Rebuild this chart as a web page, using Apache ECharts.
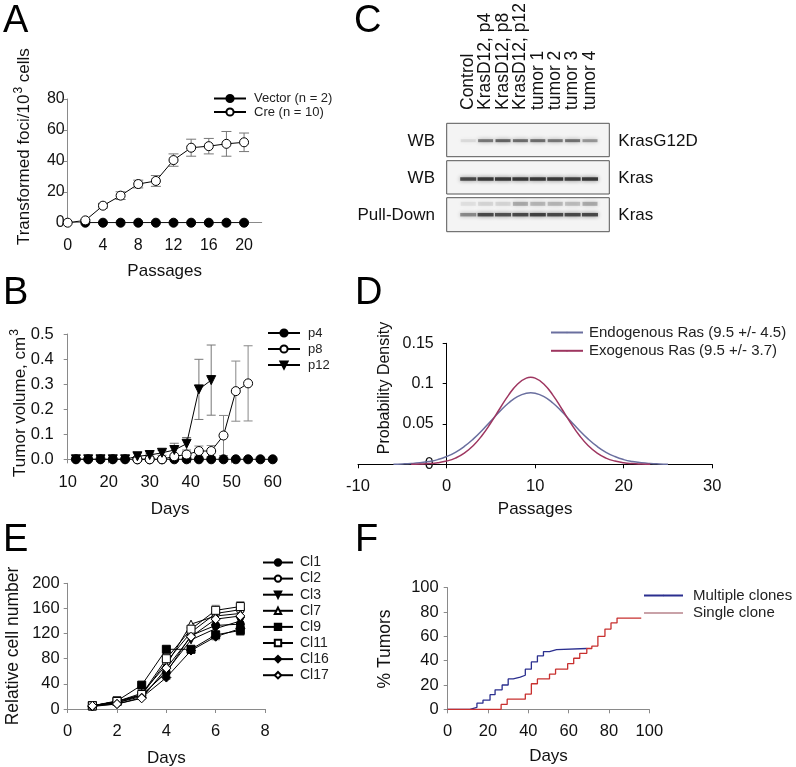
<!DOCTYPE html>
<html><head><meta charset="utf-8">
<script src="https://cdn.jsdelivr.net/npm/echarts@6/dist/echarts.min.js"></script>
<style>html,body{margin:0;padding:0;background:#fff}#c{width:796px;height:767px}</style>
</head><body><div id="c"></div>
<script>
// ---------- Panel A ----------
const aPassages = [0, 2, 4, 6, 8, 10, 12, 14, 16, 18, 20];
const aVectorPassages = [2, 4, 6, 8, 10, 12, 14, 16, 18, 20];
const aVector = [0, 0, 0, 0, 0, 0, 0, 0, 0, 0];
const aCre = [0, 1.5, 11, 17.5, 25, 27, 40.5, 48.5, 49.5, 51, 52];
const aCreErr = [0, 0.5, 1.5, 2.5, 2.5, 3.5, 4, 5.5, 5, 8, 6];
const aXTicks = [0, 4, 8, 12, 16, 20];
// ---------- Panel B ----------
const bP4Days = [12, 15, 18, 21, 24, 27, 30, 33, 36, 39, 42, 45, 48, 51, 54, 57, 60];
const bP4 = [0, 0, 0, 0, 0, 0, 0, 0, 0, 0, 0, 0, 0, 0, 0, 0, 0];
const bP8Days = [27, 30, 33, 36, 39, 42, 45, 48, 51, 54];
const bP8 = [0, 0, 0, 0.012, 0.019, 0.033, 0.033, 0.095, 0.272, 0.303];
const bP8Err = [0, 0, 0, 0.005, 0.012, 0.02, 0.022, 0.08, 0.12, 0.15];
const bP12Days = [12, 15, 18, 21, 24, 27, 30, 33, 36, 39, 42, 45];
const bP12 = [0, 0, 0, 0, 0, 0.012, 0.017, 0.026, 0.037, 0.062, 0.279, 0.316];
const bP12Err = [0, 0, 0, 0, 0, 0, 0.004, 0.01, 0.027, 0.025, 0.12, 0.14];
// ---------- Panel C (blot) ----------
const cLanes = ['Control', 'KrasD12, p4', 'KrasD12, p8', 'KrasD12, p12', 'tumor 1', 'tumor 2', 'tumor 3', 'tumor 4'];
const cG12D = [0.1, 0.55, 0.65, 0.6, 0.6, 0.55, 0.58, 0.4];
const cKras = [0.8, 0.9, 0.9, 0.9, 0.9, 0.9, 0.85, 0.9];
const cPull = [0.45, 0.8, 0.75, 0.8, 0.85, 0.8, 0.8, 0.8];
const cPullUpper = [0.08, 0.12, 0.12, 0.3, 0.25, 0.25, 0.22, 0.3];
const cStripLeft = ['WB', 'WB', 'Pull-Down'];
const cStripRight = ['KrasG12D', 'Kras', 'Kras'];
// ---------- Panel D ----------
const dPassEndo = [-6,-5,-4,-3,-2,-1,0,1,2,3,4,5,6,7,8,9,9.5,10,11,12,13,14,15,16,17,18,19,20,21,22,23,24,25];
const dEndo = [0.0002,0.0005,0.001,0.0019,0.0034,0.0058,0.0096,0.0149,0.0221,0.0312,0.042,0.0538,0.0655,0.076,0.0839,0.0881,0.0887,0.0881,0.0839,0.076,0.0655,0.0538,0.042,0.0312,0.0221,0.0149,0.0096,0.0058,0.0034,0.0019,0.001,0.0005,0.0002];
const dPassExo = [-4,-3,-2,-1,0,1,2,3,4,5,6,7,8,9,9.5,10,11,12,13,14,15,16,17,18,19,20,21,22,23];
const dExo = [0.0001,0.0004,0.0009,0.0019,0.004,0.0077,0.0138,0.023,0.0357,0.0515,0.0689,0.0858,0.0993,0.1068,0.1078,0.1068,0.0993,0.0858,0.0689,0.0515,0.0357,0.023,0.0138,0.0077,0.004,0.0019,0.0009,0.0004,0.0001];
// ---------- Panel E ----------
const eDays = [1, 2, 3, 4, 5, 6, 7];
const eCl1 = [5, 12, 22, 58, 117, 133, 135];
const eCl2 = [5, 10, 22, 75, 122, 152, 158];
const eCl3 = [5, 10, 20, 60, 110, 128, 140];
const eCl7 = [5, 12, 25, 70, 135, 148, 152];
const eCl9 = [5, 13, 38, 95, 95, 118, 125];
const eCl11 = [5, 12, 23, 80, 127, 157, 163];
const eCl16 = [4, 8, 18, 50, 93, 115, 128];
const eCl17 = [5, 8, 17, 65, 115, 143, 148];
const eCl9Err = [0, 1, 2, 3, 4, 6, 8];
const eCl11Err = [0, 1, 2, 3, 4, 8, 8];
const eCl16Err = [0, 1, 2, 3, 4, 5, 6];
// ---------- Panel F ----------
const fMultiDays = [0, 11, 14.5, 17.5, 21, 23.5, 27, 30, 32.5, 36, 38.5, 41.5, 44.5, 47.5, 50.5, 54, 69];
const fMulti = [0, 1.6, 5, 7.5, 12, 16, 20, 25, 26.5, 28, 33, 39, 44, 47.5, 49, 50, 50];
const fSingleDays = [0, 26.5, 29.5, 38.5, 41.5, 44.5, 50.5, 53.5, 59.5, 62.5, 65.5, 69, 71.5, 74.5, 78, 81, 84, 96];
const fSingle = [0, 4, 8.3, 12.5, 21, 25, 29, 33, 37.5, 42, 46, 50, 52, 60, 66, 71, 75, 75];

const FONT = '"Liberation Sans", Arial, sans-serif';
const GRAY = '#8a8a8a';
const zip = (xs, ys) => xs.map((x, i) => [x, ys[i]]);
const zip3 = (xs, ys, es) => xs.map((x, i) => [x, ys[i], es[i]]);

function vAxis(gi, min, max, interval, o) {
  o = o || {};
  return Object.assign({
    type: 'value', gridIndex: gi, min: min, max: max, interval: interval,
    axisLine: {show: true, onZero: false, lineStyle: {color: o.lineColor || GRAY, width: 1}},
    axisTick: {show: true, length: 4, lineStyle: {color: o.lineColor || GRAY}},
    splitLine: {show: false},
    axisLabel: {fontFamily: FONT, fontSize: o.fs || 16, color: '#111', margin: o.margin || 8, formatter: o.fmt},
    name: o.name, nameLocation: 'middle', nameGap: o.nameGap,
    nameTextStyle: {fontFamily: FONT, fontSize: 17, color: '#111'}
  }, o.extra || {});
}

function errSeries(xi, data, capW, color, z) {
  return {
    type: 'custom', xAxisIndex: xi, yAxisIndex: xi, data: data, z: z || 1, silent: true,
    renderItem: function (params, api) {
      const x = api.value(0), y = api.value(1), e = api.value(2);
      if (!e) return null;
      const t = api.coord([x, y + e]), b = api.coord([x, Math.max(0, y - e)]);
      const st = {stroke: color, lineWidth: 1};
      return {type: 'group', children: [
        {type: 'line', shape: {x1: t[0], y1: t[1], x2: b[0], y2: b[1]}, style: st},
        {type: 'line', shape: {x1: t[0] - capW / 2, y1: t[1], x2: t[0] + capW / 2, y2: t[1]}, style: st},
        {type: 'line', shape: {x1: b[0] - capW / 2, y1: b[1], x2: b[0] + capW / 2, y2: b[1]}, style: st}
      ]};
    }
  };
}

function mk(name, xi, data, symbol, filled, size, extra) {
  return Object.assign({
    type: 'line', name: name, xAxisIndex: xi, yAxisIndex: xi, data: data,
    symbol: symbol, symbolSize: size, showAllSymbol: true,
    itemStyle: {color: filled ? '#000' : '#fff', borderColor: '#000', borderWidth: 1},
    lineStyle: {color: '#000', width: 1}, z: 3
  }, extra || {});
}

function band(gi, vals, y, size) {
  return {
    type: 'scatter', xAxisIndex: gi, yAxisIndex: gi, symbol: 'rect', symbolSize: size, silent: true,
    data: vals.map((v, i) => ({value: [i, y], itemStyle: {opacity: v}})),
    itemStyle: {color: '#2a2a2a', shadowBlur: 4, shadowColor: 'rgba(0,0,0,0.55)'}, z: 3
  };
}

const legendBase = (o) => Object.assign({
  orient: 'vertical', padding: 0, itemWidth: 32, itemHeight: 9, selectedMode: false,
  textStyle: {fontFamily: FONT, fontSize: 13, color: '#222', padding: [0, 0, 0, 3]}
}, o);

const blotGrid = (top, h) => ({left: 446.7, top: top, width: 162.6, height: h, show: true,
  backgroundColor: '#f4f4f4', borderColor: '#555', borderWidth: 1, outerBoundsMode: 'none'});

const option = {
  animation: false,
  backgroundColor: '#fff',
  grid: [
    {left: 67.7, top: 99, width: 194, height: 123.7, outerBoundsMode: 'none'},
    {left: 67.7, top: 334, width: 205, height: 125.3, outerBoundsMode: 'none'},
    {left: 358, top: 343.3, width: 354.3, height: 121, outerBoundsMode: 'none'},
    {left: 67.7, top: 583.3, width: 197.3, height: 125.7, outerBoundsMode: 'none'},
    {left: 447.7, top: 587.7, width: 201.6, height: 121.6, outerBoundsMode: 'none'},
    {left: 459.5, top: 112, width: 139, height: 4, outerBoundsMode: 'none'},
    blotGrid(123.3, 33.4), blotGrid(160.7, 33.3), blotGrid(197.7, 34)
  ],
  xAxis: [
    vAxis(0, 0, 22, 4, {name: 'Passages', nameGap: 40,
      extra: {axisTick: {show: true, length: 4, lineStyle: {color: GRAY}, customValues: aXTicks},
              axisLabel: {fontFamily: FONT, fontSize: 16, color: '#111', margin: 15, customValues: aXTicks}}}),
    vAxis(1, 10, 60, 10, {margin: 15, fs: 16.5, name: 'Days', nameGap: 42}),
    vAxis(2, -10, 30, 10, {margin: 14, fs: 16.5, lineColor: '#000', name: 'Passages', nameGap: 37,
      extra: {axisLine: {show: true, onZero: true, lineStyle: {color: '#000'}}}}),
    vAxis(3, 0, 8, 2, {margin: 14, fs: 16.5, name: 'Days', nameGap: 41}),
    vAxis(4, 0, 100, 20, {margin: 14, fs: 16.5, name: 'Days', nameGap: 39}),
    {type: 'category', gridIndex: 5, position: 'top', data: cLanes, boundaryGap: true,
      axisLine: {show: false}, axisTick: {show: false},
      axisLabel: {rotate: 90, margin: 2, interval: 0, fontFamily: FONT, fontSize: 17.5, color: '#111'}},
    {type: 'value', gridIndex: 6, min: -1.236, max: 8.109, show: false},
    {type: 'value', gridIndex: 7, min: -1.236, max: 8.109, show: false},
    {type: 'value', gridIndex: 8, min: -1.236, max: 8.109, show: false}
  ],
  yAxis: [
    vAxis(0, 0, 80, 20, {margin: 3}),
    vAxis(1, 0, 0.5, 0.1, {margin: 14, fs: 16.5, fmt: v => v.toFixed(1)}),
    vAxis(2, 0, 0.15, 0.05, {margin: 13, fs: 16, lineColor: '#000', extra: {offset: -88.7}}),
    vAxis(3, 0, 200, 40, {margin: 8, fs: 16.5}),
    vAxis(4, 0, 100, 20, {margin: 9, fs: 16.5}),
    {type: 'value', gridIndex: 5, show: false},
    {type: 'value', gridIndex: 6, min: 0, max: 1, show: false},
    {type: 'value', gridIndex: 7, min: 0, max: 1, show: false},
    {type: 'value', gridIndex: 8, min: 0, max: 1, show: false}
  ],
  legend: [
    legendBase({left: 213, top: 92, itemGap: 0.5, data: ['Vector (n = 2)', 'Cre (n = 10)'],
      textStyle: {fontFamily: FONT, fontSize: 13, lineHeight: 13, color: '#222', padding: [0, 0, 0, 3]}}),
    legendBase({left: 267, top: 326.5, itemGap: 3, data: ['p4', 'p8', 'p12'],
      textStyle: {fontFamily: FONT, fontSize: 13, lineHeight: 13, color: '#222', padding: [0, 0, 0, 3]}}),
    legendBase({left: 550, top: 325, itemGap: 3.3, itemHeight: 2, data: ['Endogenous Ras (9.5 +/- 4.5)', 'Exogenous Ras (9.5 +/- 3.7)'],
      textStyle: {fontFamily: FONT, fontSize: 15, lineHeight: 15, color: '#222', padding: [0, 0, 0, 1]}}),
    legendBase({left: 262, top: 555.5, itemGap: 2.1, itemWidth: 30, itemHeight: 8,
      data: ['Cl1', 'Cl2', 'Cl3', 'Cl7', 'Cl9', 'Cl11', 'Cl16', 'Cl17'],
      textStyle: {fontFamily: FONT, fontSize: 14, lineHeight: 14, color: '#222', padding: [0, 0, 0, 2]}}),
    legendBase({left: 643, top: 588, itemGap: 2.4, itemWidth: 39, itemHeight: 2,
      data: ['Multiple clones', {name: 'Single clone', itemStyle: {color: '#c9a2a8'}, lineStyle: {color: '#c9a2a8'}}],
      textStyle: {fontFamily: FONT, fontSize: 15, lineHeight: 15, color: '#222', padding: [0, 0, 0, 5]}})
  ],
  series: [
    // A
    errSeries(0, zip3(aPassages, aCre, aCreErr), 10, '#777', 1),
    mk('Vector (n = 2)', 0, zip(aVectorPassages, aVector), 'circle', true, 9),
    mk('Cre (n = 10)', 0, zip(aPassages, aCre), 'circle', false, 9, {z: 4}),
    // B
    errSeries(1, zip3(bP8Days, bP8, bP8Err), 9, '#888', 1),
    errSeries(1, zip3(bP12Days, bP12, bP12Err), 9, '#777', 1),
    mk('p4', 1, zip(bP4Days, bP4), 'circle', true, 9, {z: 3}),
    mk('p8', 1, zip(bP8Days, bP8), 'circle', false, 9, {z: 4}),
    mk('p12', 1, zip(bP12Days, bP12), 'triangle', true, 9, {z: 5, symbolRotate: 180}),
    // D
    {type: 'line', name: 'Endogenous Ras (9.5 +/- 4.5)', xAxisIndex: 2, yAxisIndex: 2, data: zip(dPassEndo, dEndo),
      smooth: true, symbol: 'none', lineStyle: {color: '#6a6f9f', width: 1.5}, itemStyle: {color: '#6a6f9f'}},
    {type: 'line', name: 'Exogenous Ras (9.5 +/- 3.7)', xAxisIndex: 2, yAxisIndex: 2, data: zip(dPassExo, dExo),
      smooth: true, symbol: 'none', lineStyle: {color: '#9e3660', width: 1.5}, itemStyle: {color: '#9e3660'}},
    // E
    errSeries(3, zip3(eDays, eCl9, eCl9Err), 8, '#888', 1),
    errSeries(3, zip3(eDays, eCl11, eCl11Err), 8, '#888', 1),
    errSeries(3, zip3(eDays, eCl16, eCl16Err), 8, '#888', 1),
    mk('Cl1', 3, zip(eDays, eCl1), 'circle', true, 8),
    mk('Cl2', 3, zip(eDays, eCl2), 'circle', false, 8),
    mk('Cl3', 3, zip(eDays, eCl3), 'triangle', true, 8, {symbolRotate: 180}),
    mk('Cl7', 3, zip(eDays, eCl7), 'triangle', false, 8),
    mk('Cl9', 3, zip(eDays, eCl9), 'rect', true, 8),
    mk('Cl11', 3, zip(eDays, eCl11), 'rect', false, 8),
    mk('Cl16', 3, zip(eDays, eCl16), 'diamond', true, 9),
    mk('Cl17', 3, zip(eDays, eCl17), 'diamond', false, 9),
    // F
    {type: 'line', name: 'Multiple clones', xAxisIndex: 4, yAxisIndex: 4, data: zip(fMultiDays, fMulti),
      step: 'end', symbol: 'none', lineStyle: {color: '#2b2f8f', width: 1.3}, itemStyle: {color: '#2b2f8f'}},
    {type: 'line', name: 'Single clone', xAxisIndex: 4, yAxisIndex: 4, data: zip(fSingleDays, fSingle),
      step: 'end', symbol: 'none', lineStyle: {color: '#c8302f', width: 1.3}, itemStyle: {color: '#c8302f'}},
    // C blot bands
    band(6, cG12D, 0.48, [15, 3]),
    band(7, cKras, 0.45, [16, 3.5]),
    band(8, cPull, 0.5, [16, 3.5]),
    band(8, cPullUpper, 0.82, [15, 4])
  ],
  graphic: [
    ...[['A', 3, 21.7], ['B', 3, 294], ['C', 354, 21.7], ['D', 355, 293.5], ['E', 3, 540.5], ['F', 355, 540.5]].map(p => ({
      type: 'text', x: p[1], y: p[2], silent: true,
      style: {text: p[0], font: '38px ' + FONT, fill: '#000', align: 'left', verticalAlign: 'middle', textAlign: 'left', textVerticalAlign: 'middle'}
    })),
    ...[
      ['Transformed foci/10{s|3} cells', 24, 146.6, 17],
      ['Tumor volume, cm{s|3}', 20, 403, 17],
      ['Probability Density', 385, 388, 16],
      ['Relative cell number', 13.5, 646, 17.5],
      ['% Tumors', 385, 649, 17.5]
    ].map(t => ({
      type: 'text', x: t[1], y: t[2], rotation: Math.PI / 2, silent: true,
      style: {text: t[0], fontFamily: FONT, fontSize: t[3], fill: '#111', lineHeight: 22,
        align: 'center', verticalAlign: 'middle', textAlign: 'center', textVerticalAlign: 'middle',
        rich: {s: {fontFamily: FONT, fontSize: 12, fill: '#111', verticalAlign: 'top', lineHeight: 22, padding: [0, 0, 9, 1]}}}
    })),
    ...cStripLeft.map((s, i) => ({
      type: 'text', x: 435, y: [141.7, 178.3, 215][i], silent: true,
      style: {text: s, fontFamily: FONT, fontSize: 17, fill: '#111', align: 'right', verticalAlign: 'middle', textAlign: 'right', textVerticalAlign: 'middle'}
    })),
    ...cStripRight.map((s, i) => ({
      type: 'text', x: 618.3, y: [141.7, 178.3, 215][i], silent: true,
      style: {text: s, fontFamily: FONT, fontSize: 17, fill: '#111', align: 'left', verticalAlign: 'middle', textAlign: 'left', textVerticalAlign: 'middle'}
    }))
  ]
};

const chart = echarts.init(document.getElementById('c'), null, {renderer: 'canvas', width: 796, height: 767});
chart.setOption(option);
</script>
</body></html>
